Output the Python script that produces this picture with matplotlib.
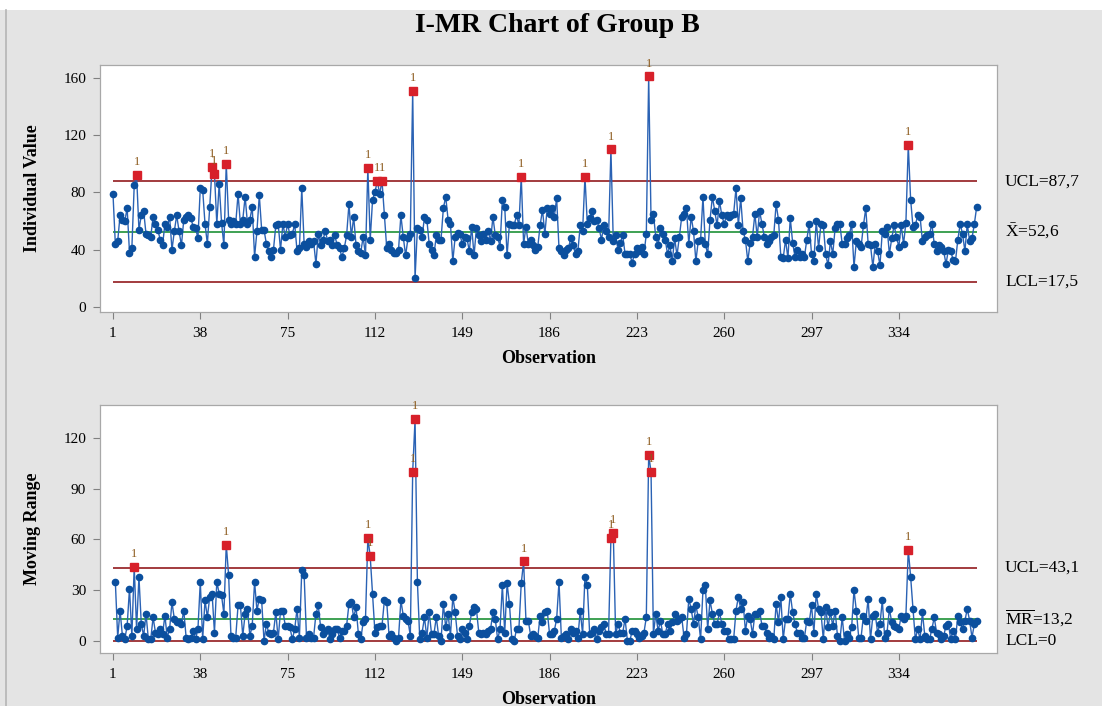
import matplotlib.pyplot as plt
import numpy as np
from matplotlib.patches import Rectangle
from matplotlib.lines import Line2D

plt.rcParams['font.family'] = ['Liberation Serif', 'DejaVu Serif']
plt.rcParams['mathtext.fontset'] = 'custom'
plt.rcParams['mathtext.rm'] = 'Liberation Serif'

obs_001_063 = [79, 44, 46, 64, 61, 60, 69, 38, 41, 85, 92, 54, 64, 67, 51, 50, 49, 63, 58, 54,
               47, 43, 58, 56, 63, 40, 53, 64, 53, 43, 61, 63, 64, 62, 56, 55, 48, 83, 82, 58,
               44, 70, 98, 93, 58, 86, 59, 43, 100, 61, 58, 60, 58, 79, 58, 61, 77, 58, 61, 70,
               35, 53, 78]
obs_064_108 = [54, 54, 44, 39, 35, 40, 57, 58, 40, 58, 49, 58, 50, 51, 58, 39, 41, 83, 44, 42,
               46, 44, 46, 30, 51, 43, 47, 53, 46, 47, 43, 50, 43, 41, 35, 41, 50, 72, 49, 63,
               43, 39, 38, 49, 36]
obs_109_127 = [97, 47, 75, 80, 88, 79, 88, 64, 41, 44, 40, 38, 38, 40, 64, 49, 36, 48, 51]
obs_128_174 = [151, 20, 55, 54, 49, 63, 61, 44, 40, 36, 50, 47, 47, 69, 77, 61, 58, 32, 49, 52,
               51, 44, 49, 48, 39, 56, 36, 55, 50, 46, 51, 47, 53, 46, 63, 50, 49, 42, 75, 70,
               36, 58, 57, 57, 64, 57, 91]
obs_175_185 = [44, 56, 44, 47, 43, 40, 42, 57, 68, 51, 69]
obs_186_200 = [65, 69, 63, 76, 41, 39, 36, 40, 41, 48, 43, 37, 39, 57, 53]
obs_201_249 = [91, 58, 62, 67, 60, 61, 55, 47, 57, 53, 49, 110, 46, 50, 40, 45, 50, 37, 37, 37,
               31, 37, 41, 39, 42, 37, 51, 161, 61, 65, 49, 43, 55, 51, 47, 37, 43, 32, 48, 36,
               49, 63, 65, 69, 44, 63, 53, 32, 46]
obs_250_313 = [47, 77, 44, 37, 61, 77, 67, 57, 74, 64, 58, 64, 63, 64, 65, 83, 57, 76, 53, 47,
               32, 45, 49, 65, 49, 67, 58, 49, 44, 46, 49, 50, 72, 61, 35, 34, 47, 34, 62, 45,
               35, 40, 35, 37, 35, 47, 58, 37, 32, 60, 41, 58, 57, 37, 29, 46, 37, 55, 58, 58,
               44, 44, 48, 50]
obs_314_367 = [58, 28, 46, 44, 42, 57, 69, 44, 43, 28, 44, 39, 29, 53, 51, 56, 37, 48, 57, 49,
               42, 57, 44, 59, 113, 75, 56, 57, 64, 63, 46, 49, 50, 51, 58, 44, 39, 43, 42, 39,
               30, 40, 39, 33, 32, 47, 58, 51, 39, 58, 46, 48, 58, 70]

individual = np.array(obs_001_063 + obs_064_108 + obs_109_127 + obs_128_174 + obs_175_185
                      + obs_186_200 + obs_201_249 + obs_250_313 + obs_314_367, dtype=float)

# control limits as printed on the chart
I_UCL, I_CENTER, I_LCL = 87.7, 52.6, 17.5
MR_UCL, MR_CENTER, MR_LCL = 43.1, 13.2, 0.0

x_ticks = [1, 38, 75, 112, 149, 186, 223, 260, 297, 334]

LINE_BLUE = '#2a62b4'
DOT_BLUE = '#0b4f9e'
RED = '#d7202a'
LIMIT_RED = '#9b2c2f'
CENTER_GREEN = '#2f9a45'
FLAG_COLOR = '#8c5a1c'

obs = np.arange(1, len(individual) + 1)
moving_range = np.abs(np.diff(individual))
mr_obs = obs[1:]
n_last = obs[-1]

fig = plt.figure(figsize=(11.02, 7.06), dpi=100)
fig.patch.set_facecolor('#e4e4e4')
fig.patches.append(Rectangle((0, 1 - 10 / 706), 1, 10 / 706, transform=fig.transFigure,
                             facecolor='white', edgecolor='none', zorder=0))
fig.add_artist(Line2D([6 / 1102, 6 / 1102], [0, 1 - 10 / 706], transform=fig.transFigure,
                      color='#b4b4b4', lw=1.2))

ax1 = fig.add_axes([100 / 1102, 1 - 312 / 706, 897 / 1102, 247 / 706])
ax2 = fig.add_axes([100 / 1102, 1 - 653 / 706, 897 / 1102, 248 / 706])


def draw_panel(ax, x, y, ucl, center, lcl, yticks, ylim, ylabel, texts):
    ax.set_facecolor('white')
    ax.hlines(ucl, 1, n_last, color=LIMIT_RED, lw=1.3, zorder=1)
    ax.hlines(lcl, 1, n_last, color=LIMIT_RED, lw=1.3, zorder=1)
    ax.hlines(center, 1, n_last, color=CENTER_GREEN, lw=1.3, zorder=1)
    ax.plot(x, y, color=LINE_BLUE, lw=1.0, zorder=2)
    ax.plot(x, y, 'o', ms=4.5, color=DOT_BLUE, mec=DOT_BLUE, zorder=3)
    out = (y > ucl) | (y < lcl)
    ax.plot(x[out], y[out], 's', ms=5.6, color=RED, mec=RED, zorder=4)
    for xi, yi in zip(x[out], y[out]):
        ax.annotate('1', (xi, yi), xytext=(0, 5), textcoords='offset points',
                    ha='center', va='bottom', fontsize=9, color=FLAG_COLOR, zorder=5)

    ax.set_xlim(-4.5, 375.6)
    ax.set_ylim(*ylim)
    ax.set_xticks(x_ticks)
    ax.set_yticks(yticks)
    ax.tick_params(direction='out', length=5, width=0.8, color='#808080',
                   labelsize=11)
    ax.tick_params(axis='x', pad=6)
    ax.tick_params(axis='y', pad=5)
    for s in ax.spines.values():
        s.set_color('#a8a8a8')
        s.set_linewidth(0.9)
    ax.set_xlabel('Observation', fontsize=13, fontweight='bold', labelpad=7)
    ax.set_ylabel(ylabel, fontsize=13, fontweight='bold', labelpad=16)

    tr = ax.get_yaxis_transform()
    for val, txt in texts:
        ax.text(1.009, val, txt, transform=tr, ha='left', va='center',
                fontsize=12.5, clip_on=False)


draw_panel(ax1, obs, individual, I_UCL, I_CENTER, I_LCL,
           [0, 40, 80, 120, 160], (-3.5, 169), 'Individual Value',
           [(I_UCL, 'UCL=87,7'), (I_CENTER, r'$\bar{\mathrm{X}}$=52,6'), (I_LCL, 'LCL=17,5')])

draw_panel(ax2, mr_obs, moving_range, MR_UCL, MR_CENTER, MR_LCL,
           [0, 30, 60, 90, 120], (-7.1, 139.5), 'Moving Range',
           [(MR_UCL, 'UCL=43,1'), (MR_CENTER, r'$\overline{\mathrm{MR}}$=13,2'), (MR_LCL, 'LCL=0')])

fig.text(557 / 1102, 1 - 26 / 706, 'I-MR Chart of Group B', ha='center', va='center',
         fontsize=20, fontweight='bold')

fig.savefig('out.png', dpi=100, facecolor=fig.get_facecolor())
